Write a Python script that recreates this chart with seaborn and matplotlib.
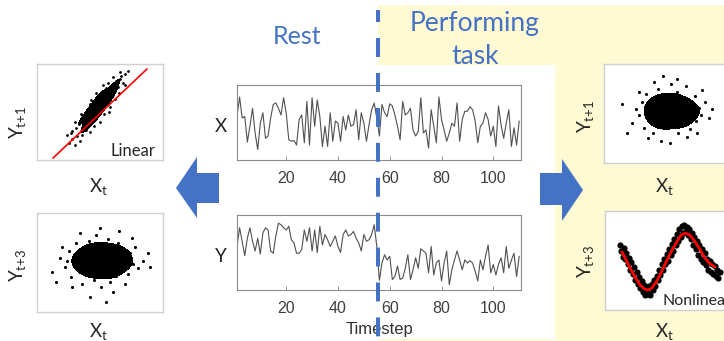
import matplotlib
matplotlib.use("Agg")
import matplotlib.pyplot as plt
import matplotlib.transforms as mtrans
from matplotlib.colors import ListedColormap
from matplotlib.patches import Polygon, Rectangle
from matplotlib.lines import Line2D
import pandas as pd
import seaborn as sns

# ---- time series (0-100 scale) ----
timesteps = list(range(1, 111))
switch_t = 55.5

x_rest = [58, 84, 56, 58, 24, 45, 69, 36, 14, 49, 63, 29, 32, 56, 74, 76, 69, 60, 83, 63,
          27, 25, 26, 20, 54, 60, 23, 78, 20, 83, 45, 80, 58, 18, 45, 18, 63, 25, 52, 49,
          25, 58, 40, 60, 45, 47, 67, 27, 63, 49, 25, 47, 67, 76, 56, 32]
x_task = [74, 63, 58, 75, 72, 60, 45, 27, 78, 60, 63, 69, 40, 32, 38, 83, 36, 40, 16, 67,
          45, 23, 84, 54, 40, 25, 36, 49, 45, 76, 25, 54, 65, 65, 71, 67, 52, 23, 45, 49,
          63, 54, 32, 45, 18, 72, 47, 29, 49, 67, 18, 43, 20, 52]
y_rest = [58, 83, 65, 46, 69, 83, 65, 52, 69, 48, 76, 83, 80, 52, 49, 72, 89, 87, 83, 80,
          85, 67, 63, 49, 49, 54, 80, 65, 83, 52, 80, 50, 85, 60, 74, 67, 58, 65, 72, 58,
          50, 74, 80, 72, 74, 78, 69, 63, 52, 74, 65, 67, 74, 87, 58]
y_task = [13, 36, 47, 40, 45, 14, 18, 32, 14, 16, 29, 47, 14, 27, 43, 29, 55, 52, 49, 23,
          58, 20, 36, 40, 12, 36, 52, 7, 27, 40, 52, 40, 27, 40, 36, 39, 36, 25, 12, 40,
          27, 45, 60, 23, 34, 20, 34, 43, 23, 58, 29, 40, 49, 18, 45]
tick_values = [20, 40, 60, 80, 100]

# ---- rest, X_t vs Y_t+1 (linear) ----
lin_x = [25, 28, 30, 27, 32, 34, 31, 35, 36, 38, 33, 37, 39, 40, 41, 42, 43, 44, 38, 40,
         45, 46, 47, 44, 48, 49, 50, 42, 46, 51, 52, 53, 54, 48, 50, 55, 56, 57, 53, 58,
         59, 60, 61, 56, 62, 63, 64, 60, 66, 67, 65, 68, 70, 72, 36, 30, 58, 62, 45, 50,
         28, 35, 55, 52, 70, 66, 24, 47, 43, 57]
lin_y = [18, 22, 16, 28, 25, 20, 33, 30, 26, 35, 38, 40, 31, 42, 37, 29, 45, 40, 47, 50,
         48, 43, 52, 55, 46, 57, 50, 58, 60, 62, 55, 48, 60, 65, 68, 66, 58, 70, 72, 63,
         75, 68, 78, 80, 72, 82, 76, 86, 84, 88, 70, 80, 90, 93, 45, 40, 55, 64, 35, 40,
         30, 48, 75, 78, 78, 92, 26, 70, 62, 50]
fit_x = [12.7, 87.3]
fit_y = [2, 94.8]

# ---- rest, X_t vs Y_t+3 (no relation) ----
rest3_x = [12, 18, 22, 25, 27, 30, 31, 33, 35, 36, 38, 39, 40, 41, 42, 43, 44, 45, 46, 47,
           48, 49, 50, 51, 52, 53, 54, 55, 56, 57, 58, 59, 60, 62, 63, 64, 66, 67, 68, 70,
           72, 74, 76, 78, 80, 84, 88, 20, 28, 34, 50, 60, 42, 70, 75, 15, 55, 90, 24, 65]
rest3_y = [40, 55, 45, 62, 35, 50, 70, 42, 58, 28, 65, 48, 38, 72, 55, 45, 62, 32, 52, 78,
           42, 60, 50, 25, 68, 45, 56, 38, 74, 52, 30, 62, 46, 58, 36, 70, 50, 42, 64, 55,
           38, 60, 48, 66, 44, 52, 60, 66, 25, 80, 85, 20, 15, 28, 75, 30, 10, 45, 52, 82]

# ---- task, X_t vs Y_t+1 (no relation) ----
task1_x = [14, 22, 25, 28, 30, 32, 33, 35, 36, 38, 39, 40, 41, 42, 43, 44, 45, 46, 47, 48,
           49, 50, 51, 52, 53, 54, 55, 56, 57, 58, 59, 60, 61, 62, 63, 64, 65, 66, 67, 68,
           70, 72, 73, 75, 77, 80, 83, 86, 18, 45, 52, 58, 40, 35, 66, 74, 78, 28, 99, 47]
task1_y = [60, 40, 55, 48, 62, 35, 70, 52, 44, 58, 30, 66, 50, 40, 75, 56, 45, 62, 35, 52,
           70, 42, 58, 48, 80, 38, 64, 54, 44, 72, 30, 58, 50, 66, 40, 55, 78, 46, 60, 34,
           52, 68, 42, 56, 48, 62, 45, 55, 30, 22, 20, 85, 82, 25, 26, 30, 74, 72, 50, 88]

# ---- task, X_t vs Y_t+3 (nonlinear) ----
sine_x = [12, 13, 14, 15, 16, 17, 18, 19, 20, 21, 22, 23, 24, 25, 26, 27, 28, 29, 30, 31,
          32, 33, 34, 35, 36, 37, 38, 39, 40, 41, 42, 43, 44, 45, 46, 47, 48, 49, 50, 51,
          52, 53, 54, 55, 56, 57, 58, 59, 60, 61, 62, 63, 64, 65, 66, 67, 68, 69, 70, 71,
          72, 73, 74, 75, 76, 77, 78, 79, 80, 81, 82, 83, 84, 85, 86, 87, 88, 89, 90, 91]
sine_y = [66, 60, 54, 63, 52, 58, 46, 53, 40, 48, 36, 43, 30, 38, 26, 33, 22, 29, 18, 25,
          15, 22, 17, 24, 15, 26, 20, 30, 24, 34, 30, 40, 35, 46, 40, 52, 46, 57, 50, 62,
          56, 67, 60, 72, 66, 77, 70, 82, 74, 85, 78, 86, 80, 84, 76, 82, 72, 78, 66, 74,
          62, 70, 56, 66, 52, 62, 48, 58, 45, 52, 40, 50, 38, 46, 36, 44, 34, 40, 32, 38]
curve_x = [13.5, 17, 20, 24, 28, 31, 34, 37, 41, 45, 49, 53, 57, 60, 63.5, 67, 71, 75, 79, 83, 87.3]
curve_y = [58.6, 50, 42, 33, 25, 21.5, 20.2, 22, 29, 39, 50, 60, 69, 75, 77.8, 76, 70, 62, 53, 47, 43.4]

# ---- styling ----
W, H = 724, 341
BLUE = "#4472C4"
YELLOW = "#FFFAD4"
LABEL_FONT = ["Lato", "DejaVu Sans"]
AXIS_FONT = ["Liberation Sans", "DejaVu Sans"]

sns.set_style("white")
plt.rcParams["font.family"] = LABEL_FONT
plt.rcParams["mathtext.default"] = "regular"


def px_rect(x0, y0, x1, y1):
    return [x0 / W, (H - y1) / H, (x1 - x0) / W, (y1 - y0) / H]


def fig_text(fig, x, y, s, **kw):
    return fig.text(x / W, 1 - y / H, s, **kw)


fig = plt.figure(figsize=(W / 100, H / 100), dpi=100)

# background: yellow task area, white panel, arrows
bg = fig.add_axes([0, 0, 1, 1], zorder=-10)
bg.set_xlim(0, W)
bg.set_ylim(H, 0)
bg.axis("off")
bg.add_patch(Rectangle((378, 5), W - 378, H - 5, color=YELLOW, lw=0))
bg.add_patch(Rectangle((200, 65), 355, 274, color="white", lw=0))
bg.add_patch(Polygon([(176, 188), (197, 157), (197, 173), (219, 173), (219, 203),
                      (197, 203), (197, 218)], closed=True, color=BLUE, lw=0))
bg.add_patch(Polygon([(583, 190), (562, 159), (562, 173), (540, 173), (540, 205),
                      (562, 205), (562, 221)], closed=True, color=BLUE, lw=0))

# ---- time series panels ----
ts_df = pd.DataFrame({
    "t": timesteps,
    "X": x_rest + x_task,
    "Y": y_rest + y_task,
})

ax_x = fig.add_axes(px_rect(237, 85, 521, 160))
ax_y = fig.add_axes(px_rect(237, 215, 521, 290))
for ax, col in [(ax_x, "X"), (ax_y, "Y")]:
    sns.lineplot(data=ts_df, x="t", y=col, ax=ax, color="#505050", lw=0.8)
    ax.set_xlim(1, 110.7)
    ax.set_ylim(0, 100)
    ax.set_xticks(tick_values)
    ax.set_yticks([])
    ax.set_xlabel("")
    ax.set_ylabel("")
    ax.tick_params(axis="x", direction="in", length=3, width=0.6, color="#808080",
                   labelsize=11.5, labelcolor="#404040", pad=8, bottom=True)
    for lab in ax.get_xticklabels():
        lab.set_fontfamily(AXIS_FONT)
    for sp in ax.spines.values():
        sp.set_color("#8c8c8c")
        sp.set_linewidth(0.8)
ax_y.set_xlabel("Timestep", fontsize=12, color="#303030", family=AXIS_FONT, labelpad=4)

fig_text(fig, 221, 127, "X", fontsize=13.5, ha="center", va="center")
fig_text(fig, 221, 257, "Y", fontsize=13.5, ha="center", va="center")

# ---- scatter panels ----
core_cmap = ListedColormap(["black"])


def scatter_box(rect, xs, ys, size, core_level):
    ax = fig.add_axes(px_rect(*rect))
    ax.set_facecolor("white")
    if core_level is not None:
        sns.kdeplot(x=xs, y=ys, ax=ax, fill=True, levels=[core_level, 1.0],
                    cmap=core_cmap, bw_adjust=1.0)
    sns.scatterplot(x=xs, y=ys, ax=ax, color="black", s=size, linewidth=0)
    ax.set_xlim(0, 100)
    ax.set_ylim(0, 100)
    ax.set_xticks([])
    ax.set_yticks([])
    ax.set_xlabel("")
    ax.set_ylabel("")
    for sp in ax.spines.values():
        sp.set_color("#d0d0d0")
        sp.set_linewidth(1)
    return ax


ax_lin = scatter_box((37, 64, 163, 160), lin_x, lin_y, 4, 0.6)
sns.lineplot(x=fit_x, y=fit_y, ax=ax_lin, color="red", lw=1.2)
scatter_box((37, 213, 163, 312), rest3_x, rest3_y, 5, 0.62)
scatter_box((604, 64, 730, 163), task1_x, task1_y, 5, 0.62)
ax_sin = scatter_box((605, 211, 731, 310), sine_x, sine_y, 20, None)
sns.lineplot(x=curve_x, y=curve_y, ax=ax_sin, color="red", lw=2)

fig_text(fig, 155, 159, "Linear", fontsize=12, ha="right", va="bottom")
fig_text(fig, 662, 308, "Nonlinear", fontsize=11.5, ha="left", va="bottom")

lab_kw = dict(fontsize=13.5, ha="center", va="center")
fig_text(fig, 18, 123, "$Y_{t{+}1}$", rotation=90, **lab_kw)
fig_text(fig, 18, 265, "$Y_{t{+}3}$", rotation=90, **lab_kw)
fig_text(fig, 586, 117, "$Y_{t{+}1}$", rotation=90, **lab_kw)
fig_text(fig, 586, 261, "$Y_{t{+}3}$", rotation=90, **lab_kw)
fig_text(fig, 98, 187, "$X_t$", **lab_kw)
fig_text(fig, 98, 332, "$X_t$", **lab_kw)
fig_text(fig, 664, 187, "$X_t$", **lab_kw)
fig_text(fig, 664, 332, "$X_t$", **lab_kw)

# ---- condition labels and switch line ----
fig_text(fig, 297, 36, "Rest", fontsize=18, color=BLUE, ha="center", va="center")
fig_text(fig, 475, 24, "Performing", fontsize=19, color=BLUE, ha="center", va="center")
fig_text(fig, 475, 56, "task", fontsize=19, color=BLUE, ha="center", va="center")

switch_tr = mtrans.blended_transform_factory(ax_x.transData, fig.transFigure)
fig.add_artist(Line2D([switch_t, switch_t], [1 - 10 / H, 0], transform=switch_tr,
                      color=BLUE, lw=2.9, solid_capstyle="butt", dash_capstyle="butt",
                      linestyle=(1.7, (4.7, 3.97)), zorder=5))

fig.savefig("out.png", dpi=100)
